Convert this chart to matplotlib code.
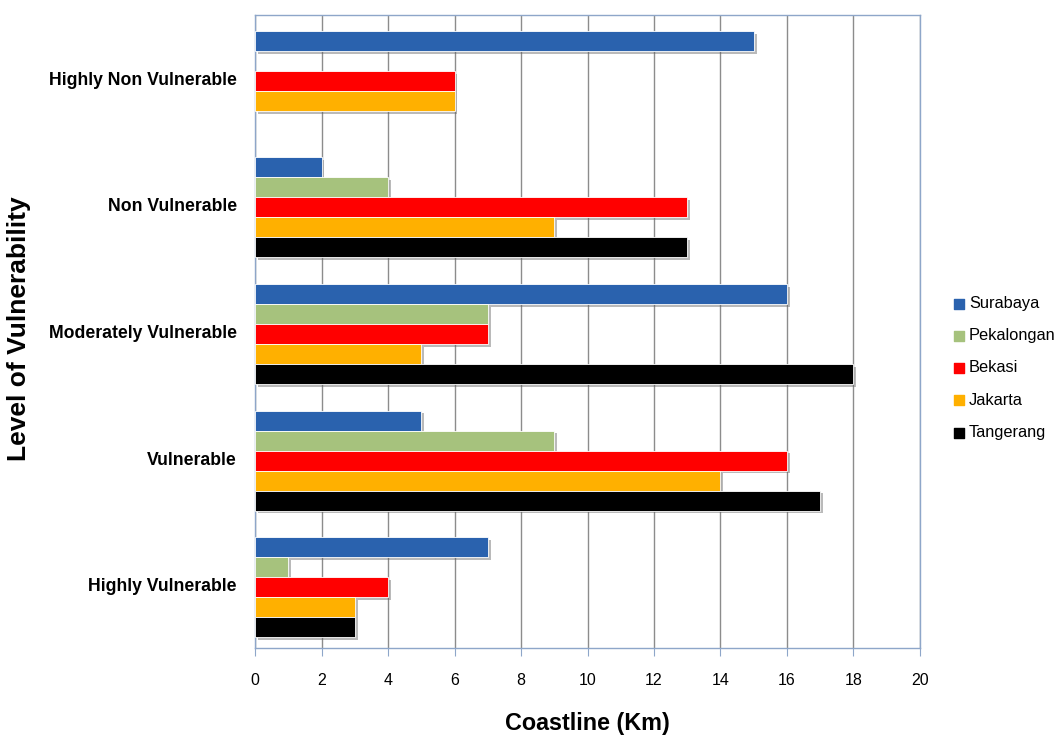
import numpy as np
import matplotlib.pyplot as plt
import matplotlib.patheffects as pe

plt.rcParams['font.family'] = ['Liberation Sans', 'DejaVu Sans']

# Data
levels = ['Highly Vulnerable', 'Vulnerable', 'Moderately Vulnerable',
          'Non Vulnerable', 'Highly Non Vulnerable']
cities = ['Surabaya', 'Pekalongan', 'Bekasi', 'Jakarta', 'Tangerang']
surabaya = [7, 5, 16, 2, 15]
pekalongan = [1, 9, 7, 4, 0]
bekasi = [4, 16, 7, 13, 6]
jakarta = [3, 14, 5, 9, 6]
tangerang = [3, 17, 18, 13, 0]
x_ticks = list(range(0, 21, 2))

series = [surabaya, pekalongan, bekasi, jakarta, tangerang]
colors = ['#2A62AE', '#A6C27D', '#FF0000', '#FFB000', '#000000']

fig = plt.figure(figsize=(10.6, 7.37), dpi=100)
ax = fig.add_axes([0.2406, 0.1208, 0.8679 - 0.2406, 0.9796 - 0.1208])

bar_h = 0.158
y = np.arange(len(levels))
shadow = [pe.SimplePatchShadow(offset=(2, -2), shadow_rgbFace='#666666', alpha=0.45), pe.Normal()]
for i, (vals, col, name) in enumerate(zip(series, colors, cities)):
    offs = (2 - i) * bar_h - 0.02
    vals = np.array(vals, dtype=float)
    mask = vals > 0
    bars = ax.barh(y[mask] + offs, vals[mask], height=bar_h, color=col,
                   edgecolor='#ffffff', linewidth=0.6, zorder=3)
    for b in bars:
        b.set_path_effects(shadow)
    ax.scatter([], [], marker='s', color=col, s=45, label=name)

ax.set_xlim(0, 20)
ax.set_ylim(-0.5, 4.5)
ax.set_xticks(x_ticks)
ax.set_xticklabels([str(t) for t in x_ticks], fontsize=11.5)
ax.set_yticks(y)
ax.set_yticklabels(levels, fontsize=12.7, fontweight='bold')
ax.tick_params(axis='y', length=0, pad=13)
ax.tick_params(axis='x', length=6, color='#8EA6C9', pad=12)
ax.xaxis.grid(True, color='#8C8C8C', linewidth=1.0, zorder=0)
ax.set_axisbelow(True)
for s in ax.spines.values():
    s.set_color('#8EA6C9')
    s.set_linewidth(1.0)

ax.set_xlabel('Coastline (Km)', fontsize=16.8, fontweight='bold', labelpad=17)
fig.text(0.018, 1 - 329 / 737, 'Level of Vulnerability', rotation=90, fontsize=19,
         fontweight='bold', ha='center', va='center')

ax.legend(loc='center left', bbox_to_anchor=(0.897, 1 - 368 / 737),
          bbox_transform=fig.transFigure, frameon=False,
          fontsize=11.8, handletextpad=0.1, labelspacing=1.05,
          handlelength=1.0, borderaxespad=0, borderpad=0)

fig.savefig('out.png', dpi=100)
